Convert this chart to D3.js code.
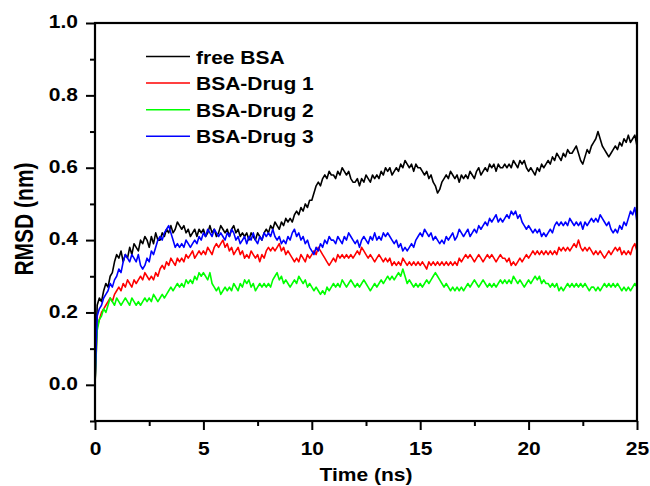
<!DOCTYPE html>
<html>
<head>
<meta charset="utf-8">
<script src="https://d3js.org/d3.v7.min.js"></script>
<style>
  body { margin: 0; background: #fff; }
  text { font-family: "Liberation Sans", Arial, sans-serif; font-weight: bold; fill: #000; }
</style>
</head>
<body>
<div id="chart"></div>
<script>
// sampling interval of the trajectories (ns)
const timeStep = 0.1;

const seriesNames = ["free BSA", "BSA-Drug 1", "BSA-Drug 2", "BSA-Drug 3"];
const seriesColors = ["#000000", "#ff0000", "#00ff00", "#0000ff"];

const freeBSA = [
  0.00, 0.22, 0.24, 0.23, 0.26, 0.28, 0.27, 0.30, 0.31, 0.34,
  0.36, 0.35, 0.37, 0.34, 0.36, 0.35, 0.38, 0.36, 0.39, 0.38,
  0.37, 0.40, 0.39, 0.41, 0.40, 0.38, 0.41, 0.39, 0.42, 0.40,
  0.40, 0.42, 0.41, 0.43, 0.42, 0.44, 0.42, 0.43, 0.45, 0.44,
  0.43, 0.44, 0.42, 0.43, 0.41, 0.42, 0.43, 0.41, 0.43, 0.42,
  0.43, 0.41, 0.42, 0.44, 0.42, 0.43, 0.41, 0.42, 0.44, 0.43,
  0.42, 0.43, 0.41, 0.43, 0.44, 0.42, 0.43, 0.41, 0.42, 0.41,
  0.42, 0.40, 0.42, 0.41, 0.40, 0.42, 0.41, 0.40, 0.42, 0.43,
  0.42, 0.44, 0.43, 0.45, 0.44, 0.43, 0.45, 0.44, 0.46, 0.45,
  0.46, 0.45, 0.47, 0.48, 0.47, 0.49, 0.48, 0.50, 0.49, 0.51,
  0.51, 0.53, 0.55, 0.56, 0.55, 0.57, 0.58, 0.57, 0.59, 0.58,
  0.58, 0.57, 0.59, 0.58, 0.60, 0.59, 0.58, 0.59, 0.57, 0.56,
  0.56, 0.57, 0.55, 0.57, 0.56, 0.58, 0.57, 0.56, 0.58, 0.57,
  0.58, 0.57, 0.59, 0.58, 0.60, 0.59, 0.60, 0.58, 0.59, 0.60,
  0.59, 0.61, 0.60, 0.62, 0.61, 0.60, 0.61, 0.59, 0.61, 0.60,
  0.60, 0.59, 0.58, 0.59, 0.57, 0.58, 0.56, 0.55, 0.53, 0.54,
  0.56, 0.57, 0.58, 0.57, 0.59, 0.58, 0.57, 0.58, 0.56, 0.58,
  0.57, 0.58, 0.57, 0.59, 0.58, 0.57, 0.59, 0.60, 0.58, 0.59,
  0.60, 0.59, 0.61, 0.60, 0.61, 0.59, 0.61, 0.60, 0.60, 0.61,
  0.60, 0.61, 0.60, 0.62, 0.61, 0.60, 0.62, 0.61, 0.62, 0.60,
  0.59, 0.60, 0.59, 0.58, 0.60, 0.59, 0.61, 0.60, 0.61, 0.62,
  0.61, 0.63, 0.62, 0.64, 0.63, 0.62, 0.64, 0.63, 0.65, 0.64,
  0.64, 0.65, 0.66, 0.64, 0.62, 0.61, 0.63, 0.65, 0.64, 0.66,
  0.67, 0.68, 0.70, 0.68, 0.66, 0.65, 0.64, 0.63, 0.64, 0.65,
  0.66, 0.65, 0.67, 0.66, 0.68, 0.67, 0.69, 0.67, 0.68, 0.69,
  0.66
];

const bsaDrug1 = [
  0.00, 0.16, 0.18, 0.20, 0.21, 0.22, 0.23, 0.24, 0.23, 0.25,
  0.26, 0.27, 0.26, 0.28, 0.27, 0.29, 0.28, 0.27, 0.29, 0.28,
  0.29, 0.30, 0.29, 0.31, 0.30, 0.29, 0.30, 0.29, 0.31, 0.30,
  0.32, 0.33, 0.32, 0.34, 0.33, 0.35, 0.34, 0.33, 0.35, 0.34,
  0.35, 0.34, 0.36, 0.35, 0.36, 0.37, 0.35, 0.36, 0.37, 0.36,
  0.37, 0.36, 0.38, 0.37, 0.36, 0.38, 0.39, 0.38, 0.39, 0.40,
  0.38, 0.39, 0.37, 0.38, 0.36, 0.37, 0.38, 0.36, 0.37, 0.35,
  0.36, 0.35, 0.37, 0.36, 0.35, 0.36, 0.34, 0.36, 0.35, 0.37,
  0.38, 0.37, 0.38, 0.37, 0.38, 0.39, 0.37, 0.38, 0.36, 0.37,
  0.36, 0.35, 0.34, 0.35, 0.34, 0.36, 0.35, 0.34, 0.36, 0.35,
  0.36, 0.37, 0.36, 0.38, 0.37, 0.36, 0.35, 0.34, 0.33, 0.34,
  0.35, 0.34, 0.36, 0.35, 0.36, 0.35, 0.36, 0.35, 0.36, 0.35,
  0.36, 0.37, 0.36, 0.38, 0.37, 0.36, 0.35, 0.36, 0.35, 0.34,
  0.35, 0.36, 0.35, 0.34, 0.35, 0.34, 0.35, 0.33, 0.34, 0.33,
  0.34, 0.33, 0.35, 0.34, 0.33, 0.34, 0.33, 0.34, 0.33, 0.34,
  0.33, 0.34, 0.33, 0.32, 0.34, 0.33, 0.34, 0.33, 0.34, 0.33,
  0.34, 0.33, 0.34, 0.33, 0.34, 0.33, 0.34, 0.33, 0.35, 0.34,
  0.35, 0.36, 0.35, 0.36, 0.35, 0.34, 0.35, 0.36, 0.35, 0.34,
  0.35, 0.36, 0.35, 0.36, 0.35, 0.34, 0.35, 0.36, 0.35, 0.35,
  0.34, 0.35, 0.33, 0.34, 0.33, 0.34, 0.35, 0.34, 0.35, 0.36,
  0.35, 0.36, 0.37, 0.36, 0.37, 0.36, 0.37, 0.36, 0.37, 0.36,
  0.37, 0.36, 0.37, 0.36, 0.38, 0.37, 0.38, 0.37, 0.38, 0.37,
  0.38, 0.39, 0.38, 0.40, 0.38, 0.37, 0.38, 0.37, 0.38, 0.37,
  0.36, 0.37, 0.36, 0.37, 0.36, 0.35, 0.36, 0.37, 0.36, 0.37,
  0.38, 0.37, 0.38, 0.36, 0.37, 0.36, 0.37, 0.36, 0.38, 0.39,
  0.37
];

const bsaDrug2 = [
  0.00, 0.15, 0.18, 0.19, 0.21, 0.20, 0.22, 0.24, 0.23, 0.22,
  0.24, 0.23, 0.22, 0.23, 0.24, 0.23, 0.22, 0.24, 0.23, 0.22,
  0.23, 0.22, 0.23, 0.24, 0.23, 0.24, 0.23, 0.25, 0.24, 0.23,
  0.24, 0.25, 0.24, 0.25, 0.26, 0.27, 0.26, 0.27, 0.28, 0.27,
  0.28, 0.27, 0.29, 0.28, 0.29, 0.28, 0.30, 0.29, 0.31, 0.30,
  0.31, 0.30, 0.29, 0.31, 0.28, 0.27, 0.26, 0.27, 0.25, 0.26,
  0.27, 0.26, 0.27, 0.26, 0.28, 0.27, 0.26, 0.28, 0.27, 0.29,
  0.28, 0.29, 0.27, 0.28, 0.26, 0.27, 0.28, 0.27, 0.28, 0.27,
  0.28, 0.27, 0.29, 0.30, 0.31, 0.29, 0.30, 0.28, 0.29, 0.28,
  0.27, 0.28, 0.29, 0.28, 0.30, 0.29, 0.28, 0.29, 0.27, 0.28,
  0.27, 0.26, 0.27, 0.26, 0.25, 0.26, 0.25, 0.27, 0.26, 0.27,
  0.28, 0.27, 0.28, 0.27, 0.29, 0.28, 0.27, 0.28, 0.29, 0.28,
  0.27, 0.28, 0.27, 0.28, 0.29, 0.28, 0.27, 0.26, 0.27, 0.28,
  0.27, 0.28, 0.29, 0.28, 0.29, 0.30, 0.29, 0.30, 0.29, 0.30,
  0.31, 0.30, 0.32, 0.30, 0.28, 0.29, 0.28, 0.27, 0.28, 0.27,
  0.28, 0.27, 0.28, 0.29, 0.28, 0.29, 0.30, 0.31, 0.30, 0.29,
  0.28, 0.27, 0.28, 0.27, 0.26, 0.27, 0.26, 0.27, 0.26, 0.27,
  0.26, 0.27, 0.28, 0.27, 0.28, 0.29, 0.28, 0.27, 0.28, 0.29,
  0.28, 0.27, 0.28, 0.27, 0.28, 0.27, 0.28, 0.29, 0.28, 0.29,
  0.28, 0.29, 0.28, 0.30, 0.29, 0.28, 0.29, 0.28, 0.27, 0.28,
  0.29, 0.28, 0.29, 0.30, 0.29, 0.30, 0.28, 0.29, 0.28, 0.28,
  0.27, 0.28, 0.27, 0.28, 0.26, 0.27, 0.26, 0.27, 0.28, 0.27,
  0.28, 0.27, 0.28, 0.27, 0.28, 0.27, 0.28, 0.27, 0.26, 0.27,
  0.27, 0.26, 0.27, 0.26, 0.27, 0.28, 0.27, 0.28, 0.27, 0.28,
  0.27, 0.28, 0.27, 0.26, 0.27, 0.26, 0.27, 0.26, 0.27, 0.28,
  0.27
];

const bsaDrug3 = [
  0.00, 0.19, 0.21, 0.22, 0.24, 0.25, 0.26, 0.28, 0.27, 0.29,
  0.30, 0.32, 0.31, 0.34, 0.36, 0.35, 0.34, 0.36, 0.35, 0.34,
  0.36, 0.33, 0.32, 0.33, 0.35, 0.34, 0.37, 0.36, 0.38, 0.40,
  0.41, 0.40, 0.42, 0.43, 0.44, 0.42, 0.40, 0.38, 0.39, 0.38,
  0.39, 0.38, 0.40, 0.39, 0.38, 0.39, 0.40, 0.39, 0.41, 0.40,
  0.42, 0.41, 0.43, 0.42, 0.41, 0.43, 0.42, 0.41, 0.42, 0.41,
  0.40, 0.42, 0.41, 0.43, 0.42, 0.40, 0.41, 0.39, 0.40, 0.41,
  0.39, 0.41, 0.40, 0.42, 0.40, 0.39, 0.41, 0.40, 0.42, 0.41,
  0.42, 0.41, 0.43, 0.41, 0.40, 0.41, 0.39, 0.40, 0.39, 0.41,
  0.40, 0.42, 0.43, 0.41, 0.42, 0.40, 0.41, 0.39, 0.40, 0.38,
  0.37, 0.36, 0.38, 0.37, 0.39, 0.38, 0.40, 0.39, 0.41, 0.40,
  0.40, 0.39, 0.41, 0.40, 0.39, 0.41, 0.40, 0.42, 0.41, 0.40,
  0.39, 0.40, 0.38, 0.40, 0.41, 0.40, 0.39, 0.41, 0.40, 0.42,
  0.40, 0.41, 0.40, 0.42, 0.41, 0.42, 0.41, 0.40, 0.39, 0.40,
  0.38, 0.39, 0.37, 0.38, 0.37, 0.38, 0.39, 0.38, 0.40, 0.41,
  0.42, 0.41, 0.43, 0.42, 0.41, 0.42, 0.40, 0.41, 0.40, 0.39,
  0.40, 0.39, 0.41, 0.40, 0.41, 0.42, 0.40, 0.41, 0.43, 0.42,
  0.41, 0.42, 0.43, 0.41, 0.42, 0.43, 0.42, 0.44, 0.43, 0.44,
  0.45, 0.44, 0.46, 0.45, 0.46, 0.47, 0.45, 0.46, 0.45, 0.46,
  0.47, 0.46, 0.48, 0.47, 0.48, 0.46, 0.47, 0.45, 0.44, 0.43,
  0.44, 0.43, 0.42, 0.43, 0.42, 0.43, 0.41, 0.42, 0.41, 0.42,
  0.43, 0.42, 0.44, 0.45, 0.44, 0.45, 0.44, 0.45, 0.44, 0.46,
  0.45, 0.44, 0.45, 0.44, 0.45, 0.43, 0.45, 0.44, 0.45, 0.46,
  0.45, 0.46, 0.45, 0.47, 0.46, 0.45, 0.44, 0.45, 0.43, 0.42,
  0.43, 0.42, 0.44, 0.43, 0.45, 0.44, 0.46, 0.48, 0.47, 0.49,
  0.45
];

const xTicks = [0, 5, 10, 15, 20, 25];
const xMinorTicks = [2.5, 7.5, 12.5, 17.5, 22.5];
const yTicks = [0.0, 0.2, 0.4, 0.6, 0.8, 1.0];
const yMinorTicks = [-0.1, 0.1, 0.3, 0.5, 0.7, 0.9];

// Dimensiones
const width = 650, height = 486;
const margin = { top: 23, right: 13, bottom: 65, left: 95 };
const w = width - margin.left - margin.right;
const h = height - margin.top - margin.bottom;

// the original figure is stretched horizontally
const stretch = 1.2;
const fontSize = 17.5;

const svg = d3.select("#chart").append("svg")
  .attr("width", width)
  .attr("height", height);

const g = svg.append("g")
  .attr("transform", `translate(${margin.left},${margin.top})`);

const x = d3.scaleLinear().domain([0, 25]).range([0, w]);
const y = d3.scaleLinear().domain([-0.1, 1.0]).range([h, 0]);

// Curvas (orden de la leyenda, azul encima)
const allSeries = [freeBSA, bsaDrug1, bsaDrug2, bsaDrug3];
const line = d3.line()
  .x((d, i) => x(i * timeStep))
  .y(d => y(d));

allSeries.forEach((s, k) => {
  g.append("path")
    .datum(s)
    .attr("fill", "none")
    .attr("stroke", seriesColors[k])
    .attr("stroke-width", 1.6)
    .attr("stroke-linejoin", "round")
    .attr("d", line);
});

// minor ticks
g.append("g")
  .call(d3.axisLeft(y).tickValues(yMinorTicks).tickSize(5).tickFormat(""))
  .call(a => a.select(".domain").remove())
  .selectAll("line").attr("stroke-width", 2);

g.append("g")
  .attr("transform", `translate(0,${h})`)
  .call(d3.axisBottom(x).tickValues(xMinorTicks).tickSize(5).tickFormat(""))
  .call(a => a.select(".domain").remove())
  .selectAll("line").attr("stroke-width", 2);

// major ticks
const yAxis = g.append("g")
  .call(d3.axisLeft(y).tickValues(yTicks).tickSize(9).tickFormat(d3.format(".1f")))
  .call(a => a.select(".domain").remove());
yAxis.selectAll("line").attr("stroke-width", 2);
yAxis.selectAll("text")
  .attr("x", -17 / stretch)
  .attr("dy", "0.28em")
  .attr("transform", `scale(${stretch},1)`)
  .style("font-size", fontSize + "px")
  .attr("font-family", null);

const xAxis = g.append("g")
  .attr("transform", `translate(0,${h})`)
  .call(d3.axisBottom(x).tickValues(xTicks).tickSize(9).tickFormat(d3.format("d")))
  .call(a => a.select(".domain").remove());
xAxis.selectAll("line").attr("stroke-width", 2);
xAxis.selectAll("text")
  .attr("y", 21.5)
  .attr("transform", `scale(${stretch},1)`)
  .style("font-size", fontSize + "px")
  .attr("font-family", null);

// Marco
g.append("rect")
  .attr("x", 0).attr("y", 0)
  .attr("width", w).attr("height", h)
  .attr("fill", "none")
  .attr("stroke", "#000")
  .attr("stroke-width", 2.2);

// Títulos de los ejes
svg.append("text")
  .attr("transform", `translate(${margin.left + w / 2},481) scale(${stretch},1)`)
  .attr("text-anchor", "middle")
  .style("font-size", fontSize + "px")
  .text("Time (ns)");

svg.append("text")
  .attr("transform", `translate(33,219) rotate(-90) scale(1,${stretch})`)
  .attr("text-anchor", "middle")
  .style("font-size", "21px")
  .text("RMSD (nm)");

// Leyenda
const legend = svg.append("g").attr("transform", "translate(146,56.5)");
seriesNames.forEach((name, k) => {
  const row = legend.append("g").attr("transform", `translate(0,${k * 26.6})`);
  row.append("line")
    .attr("x1", 0).attr("x2", 44)
    .attr("y1", 0).attr("y2", 0)
    .attr("stroke", seriesColors[k])
    .attr("stroke-width", 1.5);
  row.append("text")
    .attr("transform", `translate(50,7) scale(${stretch},1)`)
    .style("font-size", fontSize + "px")
    .text(name);
});
</script>
</body>
</html>
